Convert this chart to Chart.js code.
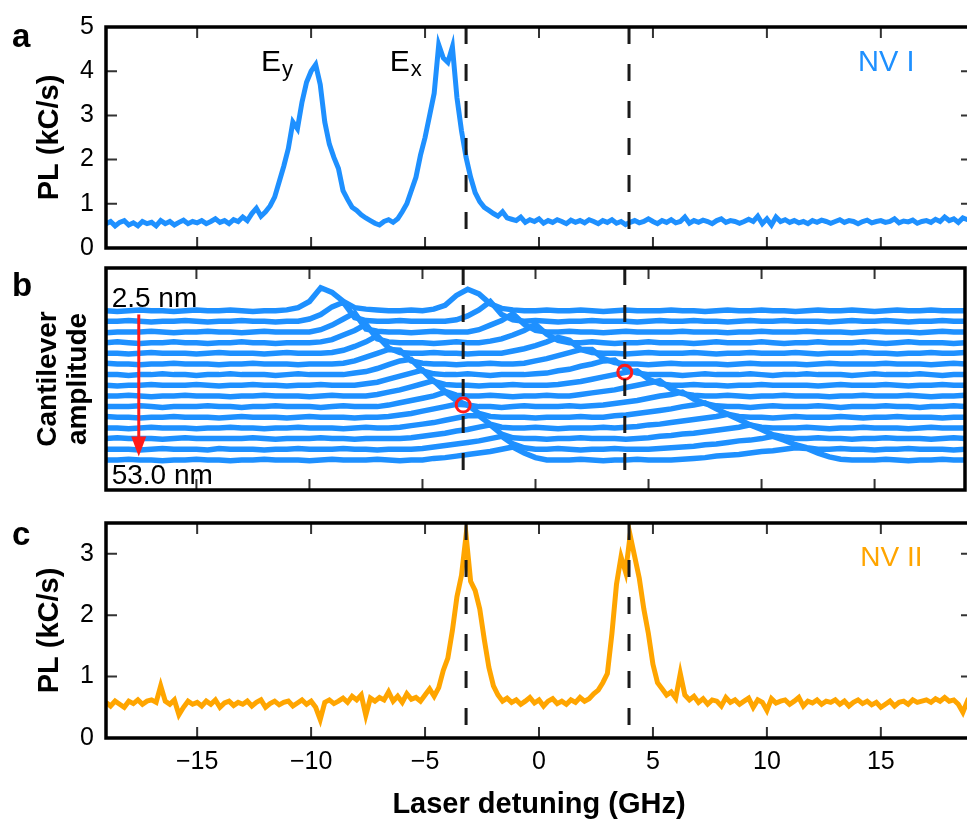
<!DOCTYPE html>
<html>
<head>
<meta charset="utf-8">
<script src="https://cdn.jsdelivr.net/npm/chart.js@4.4.1/dist/chart.umd.min.js"></script>
<style>
  html, body { margin: 0; padding: 0; background: #fff; overflow: hidden; }
  body { width: 967px; height: 826px; position: relative; }
  canvas { position: absolute; left: 0; }
</style>
</head>
<body>
<canvas id="panelA" width="975" height="275" style="top:0px"></canvas>
<canvas id="panelB" width="975" height="242" style="top:258px"></canvas>
<canvas id="panelC" width="975" height="330" style="top:496px"></canvas>
<script>
// shared detuning axis (GHz)
const X_MIN = -19, X_MAX = 19;
const X_TICKS = [-15, -10, -5, 0, 5, 10, 15];
const DASHED_X = [-3.2, 3.95];

// panels a and c: one sample every 0.2 GHz starting at -19 GHz
const SCAN_START = -19, SCAN_STEP = 0.2;

// panel a, NV I, PL in kC/s
const PL_NV1 = [
  0.55,0.6,0.5,0.58,0.62,0.52,0.57,0.5,0.6,0.55,
  0.58,0.5,0.62,0.55,0.6,0.52,0.58,0.63,0.55,0.6,
  0.57,0.62,0.55,0.6,0.66,0.58,0.62,0.55,0.64,0.6,
  0.7,0.62,0.78,0.9,0.72,0.82,0.95,1.15,1.5,1.85,
  2.25,2.85,2.7,3.3,3.75,4.0,4.15,3.7,2.85,2.35,
  2.05,1.8,1.3,1.1,0.92,0.85,0.75,0.68,0.62,0.56,
  0.52,0.6,0.64,0.58,0.66,0.82,1.0,1.3,1.6,2.1,
  2.5,3.0,3.5,4.6,4.3,4.2,4.55,3.4,2.65,2.05,
  1.6,1.25,1.05,0.92,0.85,0.78,0.72,0.82,0.68,0.65,
  0.62,0.7,0.58,0.64,0.6,0.66,0.56,0.62,0.58,0.64,
  0.6,0.55,0.63,0.58,0.62,0.57,0.64,0.6,0.55,0.62,
  0.58,0.64,0.56,0.6,0.53,0.58,0.62,0.57,0.6,0.66,
  0.6,0.55,0.62,0.58,0.64,0.57,0.6,0.7,0.56,0.62,
  0.58,0.63,0.6,0.55,0.62,0.66,0.58,0.62,0.6,0.56,
  0.6,0.65,0.6,0.72,0.55,0.66,0.52,0.7,0.6,0.64,
  0.58,0.62,0.57,0.6,0.55,0.62,0.58,0.63,0.6,0.56,
  0.6,0.64,0.58,0.62,0.6,0.55,0.6,0.63,0.57,0.6,
  0.62,0.58,0.6,0.66,0.57,0.61,0.59,0.63,0.56,0.6,
  0.62,0.58,0.65,0.6,0.7,0.62,0.66,0.58,0.68,0.64,0.62
];

// panel c, NV II, PL in kC/s
const PL_NV2 = [
  0.58,0.52,0.6,0.55,0.5,0.6,0.56,0.62,0.55,0.6,
  0.62,0.58,0.85,0.6,0.55,0.62,0.38,0.5,0.6,0.55,
  0.58,0.52,0.6,0.55,0.62,0.5,0.57,0.6,0.53,0.58,
  0.55,0.6,0.52,0.58,0.62,0.5,0.56,0.6,0.54,0.58,
  0.6,0.52,0.57,0.62,0.55,0.6,0.5,0.3,0.58,0.62,
  0.56,0.6,0.65,0.58,0.68,0.62,0.7,0.37,0.65,0.6,
  0.66,0.62,0.75,0.6,0.68,0.58,0.72,0.63,0.66,0.6,
  0.7,0.8,0.68,0.82,1.1,1.3,1.75,2.3,2.65,3.3,
  2.55,2.4,2.1,1.6,1.15,0.85,0.7,0.6,0.65,0.58,
  0.62,0.55,0.6,0.66,0.57,0.62,0.52,0.6,0.64,0.56,
  0.6,0.55,0.62,0.58,0.66,0.6,0.64,0.72,0.78,0.9,
  1.05,1.7,2.5,2.95,2.7,3.3,2.95,2.6,2.1,1.7,
  1.2,0.9,0.8,0.7,0.75,0.65,1.05,0.7,0.62,0.68,
  0.58,0.64,0.55,0.62,0.6,0.52,0.66,0.58,0.62,0.55,
  0.6,0.65,0.5,0.62,0.58,0.45,0.64,0.57,0.6,0.62,
  0.55,0.6,0.66,0.52,0.6,0.57,0.62,0.55,0.6,0.58,
  0.62,0.55,0.6,0.52,0.58,0.62,0.56,0.6,0.54,0.58,
  0.5,0.55,0.6,0.52,0.58,0.6,0.55,0.62,0.58,0.6,
  0.62,0.58,0.64,0.6,0.66,0.6,0.62,0.55,0.42,0.6,0.55
];

// panel b: NV I spectra for growing cantilever amplitude (2.5 nm at top -> 53.0 nm at bottom)
// one sample every 0.5 GHz from -19 GHz, values in units of 0.1 kC/s
const WATERFALL_START = -19, WATERFALL_STEP = 0.5;
const AMPLITUDE_LABELS = ['2.5 nm', '53.0 nm'];
const WATERFALL = [
  [6,5,6,7,6,6,5,6,7,6, 6,7,6,5,6,6,7,10,18,36, 30,18,10,8,7,6,6,7,6,8, 13,26,34,28,15,9,7,6,6,7, 6,6,7,6,5,6,7,6,6,6, 7,6,6,5,6,7,6,6,7,6, 6,5,6,7,6,6,7,6,5,6, 7,6,6,7,6,6,6],
  [6,6,7,6,5,6,6,7,6,5, 6,6,7,6,6,5,6,6,9,15, 25,31,11,7,6,6,7,6,6,6, 6,8,13,21,32,15,8,6,7,6, 5,6,6,7,6,6,6,5,6,7, 6,6,7,6,6,5,6,7,6,6, 7,6,6,6,5,6,7,6,6,7, 6,5,6,6,7,6,6],
  [5,6,6,6,7,6,5,6,6,7, 6,6,5,6,7,6,6,6,6,9, 15,23,31,10,7,6,6,5,6,7, 6,6,6,9,15,21,30,16,8,6, 6,7,6,6,5,6,7,6,6,6, 6,7,6,6,6,5,6,6,7,6, 6,6,7,6,6,6,5,6,7,6, 6,6,5,6,7,6,6],
  [6,7,6,5,6,6,7,6,6,5, 6,6,7,6,6,5,6,6,6,7, 10,16,22,30,11,7,6,6,6,5, 6,7,6,6,8,11,16,22,30,17, 9,6,6,7,6,5,6,6,7,6, 6,6,5,6,7,6,6,6,7,6, 5,6,6,7,6,6,6,7,6,5, 6,7,6,6,6,5,6],
  [6,6,5,6,7,6,6,6,5,6, 7,6,6,6,5,6,7,6,6,6, 7,10,15,21,29,13,7,6,6,7, 6,6,5,6,6,6,9,12,16,21, 27,23,11,7,6,6,5,6,7,6, 6,6,7,6,5,6,6,7,6,6, 6,7,6,5,6,6,6,7,6,6, 5,6,6,7,6,6,7],
  [7,6,6,5,6,6,7,6,6,6, 5,6,6,7,6,6,6,5,6,6, 6,7,10,15,20,25,24,10,7,6, 6,5,6,6,7,6,6,7,10,13, 17,21,25,25,13,8,6,6,5,6, 7,6,6,6,6,5,6,7,6,6, 6,6,5,6,7,6,6,6,6,7, 6,6,6,5,6,7,6],
  [6,6,5,6,6,7,6,6,5,6, 6,7,6,6,6,5,6,7,6,6, 6,6,8,10,14,19,24,26,11,7, 6,6,7,6,5,6,6,6,7,8, 11,13,17,20,24,25,13,8,6,6, 6,5,6,7,6,6,6,7,6,5, 6,6,7,6,6,6,5,6,7,6, 6,6,7,6,5,6,6],
  [6,5,6,6,7,6,6,6,7,6, 5,6,6,7,6,6,5,6,6,7, 6,6,6,8,10,14,18,22,26,11, 7,6,6,5,6,6,7,6,6,6, 7,9,11,14,17,20,23,25,14,8, 6,6,7,6,6,5,6,6,7,6, 6,6,6,5,6,7,6,6,6,7, 6,5,6,6,7,6,6],
  [6,6,7,6,5,6,6,7,6,6, 6,5,6,6,7,6,6,6,5,6, 7,6,6,6,8,11,14,18,22,26, 12,7,6,6,7,6,5,6,6,7, 6,6,8,10,12,14,17,20,23,26, 15,9,7,6,6,7,6,5,6,6, 7,6,6,6,5,6,6,7,6,6, 6,7,6,5,6,6,7],
  [6,6,6,7,6,5,6,6,6,7, 6,6,5,6,6,7,6,6,6,5, 6,7,6,6,6,8,11,14,17,20, 25,14,8,6,6,5,6,7,6,6, 6,7,6,7,8,10,12,14,17,20, 22,25,16,10,7,6,6,5,6,7, 6,6,6,7,6,5,6,6,6,7, 6,6,5,6,6,7,6],
  [7,6,6,5,6,6,7,6,6,6, 5,6,7,6,6,6,5,6,7,6, 6,6,5,6,6,7,9,11,14,17, 20,23,22,11,7,6,6,6,5,6, 6,6,7,6,6,8,9,11,13,15, 17,20,22,25,17,10,7,6,6,5, 6,7,6,6,6,7,6,5,6,6, 7,6,6,6,5,6,6],
  [6,6,5,6,7,6,6,6,5,6, 6,7,6,6,5,6,6,7,6,6, 6,5,6,7,6,6,7,9,11,13, 16,19,22,22,11,7,6,6,7,6, 5,6,6,6,7,6,7,8,10,11, 13,15,17,19,21,24,17,10,7,6, 6,6,7,6,5,6,6,7,6,6, 6,5,6,7,6,6,6],
  [6,7,6,6,6,5,6,7,6,6, 6,6,6,7,6,5,6,6,6,7, 6,6,5,6,6,6,6,7,9,11, 13,16,18,21,24,12,7,6,6,5, 6,6,7,6,6,6,5,6,7,9, 10,12,13,15,17,19,21,24,18,11, 8,6,6,7,6,6,5,6,6,7, 6,6,6,5,6,7,6],
  [6,6,6,5,6,7,6,6,6,5, 7,6,6,6,5,6,6,7,6,6, 6,7,6,6,5,6,6,6,7,9, 11,13,15,17,20,23,13,8,6,6, 7,6,5,6,6,7,6,6,6,7, 8,9,10,12,13,15,17,18,20,23, 18,12,8,6,6,7,6,6,5,6, 6,7,6,6,6,5,6],
  [6,6,7,6,6,5,6,6,7,6, 6,5,6,6,7,6,6,6,5,6, 7,6,6,6,7,6,5,6,6,8, 9,11,13,15,17,20,23,15,9,6, 6,6,7,6,5,6,6,7,6,6, 6,7,8,9,11,12,13,15,17,18, 20,22,21,15,10,7,6,6,6,7, 6,5,6,6,7,6,6]
];
const WATERFALL_OFFSET = 1.4;          // kC/s between consecutive spectra
const CROSSINGS = [[-3.2, 7.8], [3.95, 12.1]];   // red circles in panel b
const ARROW = { x: -17.55, from: 19.7, to: 1.05 };

const BLUE = '#1e90ff', ORANGE = '#ffa500', RED = '#ff1a1a';
const FONT = "'Liberation Sans', Arial, sans-serif";

function scanPoints(values, start, step) {
  return values.map((v, i) => ({ x: start + i * step, y: v }));
}

// frame, inward ticks, dashed markers and labels for every panel
const panelDecor = {
  id: 'panelDecor',
  afterDatasetsDraw(chart, args, opts) {
    const { ctx, chartArea: a } = chart;
    const x = chart.scales.x, y = chart.scales.y;
    ctx.save();

    ctx.strokeStyle = '#1a1a1a';
    ctx.lineWidth = 3;
    ctx.setLineDash([17, 20]);
    DASHED_X.forEach(v => {
      const px = x.getPixelForValue(v);
      ctx.beginPath();
      ctx.moveTo(px, a.top);
      ctx.lineTo(px, a.bottom);
      ctx.stroke();
    });
    ctx.setLineDash([]);

    if (opts.arrow) {
      const ax = x.getPixelForValue(opts.arrow.x);
      const y0 = y.getPixelForValue(opts.arrow.from);
      const y1 = y.getPixelForValue(opts.arrow.to);
      ctx.strokeStyle = RED;
      ctx.lineWidth = 3;
      ctx.beginPath();
      ctx.moveTo(ax, y0);
      ctx.lineTo(ax, y1 - 18);
      ctx.stroke();
      ctx.fillStyle = RED;
      ctx.beginPath();
      ctx.moveTo(ax - 7.5, y1 - 20);
      ctx.lineTo(ax + 7.5, y1 - 20);
      ctx.lineTo(ax, y1);
      ctx.closePath();
      ctx.fill();
    }

    ctx.strokeStyle = '#333';
    ctx.lineWidth = 2;
    X_TICKS.forEach(v => {
      const px = x.getPixelForValue(v);
      ctx.beginPath();
      ctx.moveTo(px, a.top); ctx.lineTo(px, a.top + 11);
      ctx.moveTo(px, a.bottom); ctx.lineTo(px, a.bottom - 11);
      ctx.stroke();
    });
    (opts.yTicks || []).forEach(v => {
      const py = y.getPixelForValue(v);
      ctx.beginPath();
      ctx.moveTo(a.left, py); ctx.lineTo(a.left + 11, py);
      ctx.moveTo(a.right, py); ctx.lineTo(a.right - 11, py);
      ctx.stroke();
    });

    ctx.strokeStyle = '#000';
    ctx.lineWidth = 3.5;
    ctx.strokeRect(a.left, a.top, a.right - a.left, a.bottom - a.top);

    ctx.textBaseline = 'alphabetic';
    ctx.textAlign = 'left';
    ctx.fillStyle = '#000';
    ctx.font = 'bold 33px ' + FONT;
    ctx.fillText(opts.letter, 12, a.top + opts.letterDy);

    (opts.labels || []).forEach(l => {
      const px = x.getPixelForValue(l.x), py = y.getPixelForValue(l.y);
      ctx.fillStyle = l.color || '#000';
      ctx.font = l.size + 'px ' + FONT;
      ctx.fillText(l.text, px, py);
      if (l.sub) {
        const w = ctx.measureText(l.text).width;
        ctx.font = '22px ' + FONT;
        ctx.fillText(l.sub, px + w + 1, py + 5);
      }
    });
    ctx.restore();
  }
};

function yAxis(min, max, ticks, title, titleFont, titlePad) {
  return {
    type: 'linear', min: min, max: max,
    afterBuildTicks: s => { s.ticks = ticks.map(v => ({ value: v })); },
    afterFit: s => { s.width = 106; },
    grid: { display: false, drawTicks: false },
    border: { display: false },
    ticks: { display: ticks.length > 0, font: { family: FONT, size: 25 }, color: '#000', padding: 12 },
    title: { display: true, text: title, color: '#000', font: titleFont, padding: { top: titlePad, bottom: 0 } }
  };
}

function xAxis(show) {
  return {
    type: 'linear', min: X_MIN, max: X_MAX, display: show,
    afterBuildTicks: s => { s.ticks = X_TICKS.map(v => ({ value: v })); },
    afterFit: s => { if (show) s.height = 88; },
    grid: { display: false, drawTicks: false },
    border: { display: false },
    ticks: {
      font: { family: FONT, size: 25 }, color: '#000', padding: 9, maxRotation: 0, autoSkip: false,
      callback: v => v < 0 ? '\u2212' + Math.abs(v) : String(v)
    },
    title: {
      display: show, text: 'Laser detuning (GHz)', color: '#000',
      font: { family: FONT, size: 29, weight: 'bold', lineHeight: 1 }, padding: { top: 0, bottom: 7 }
    }
  };
}

function baseOptions(padding, scales, decor) {
  return {
    responsive: false,
    animation: false,
    events: [],
    layout: { padding: padding },
    elements: { point: { radius: 0 }, line: { tension: 0 } },
    plugins: { legend: { display: false }, tooltip: { enabled: false }, panelDecor: decor },
    scales: scales
  };
}

const plTitleFont = { family: FONT, size: 29, weight: 'bold', lineHeight: 1 };

// panel a
new Chart(document.getElementById('panelA'), {
  type: 'line',
  data: { datasets: [{
    data: scanPoints(PL_NV1, SCAN_START, SCAN_STEP),
    borderColor: BLUE, borderWidth: 5, fill: false
  }] },
  options: baseOptions({ top: 22, bottom: 15, left: 0, right: 3 }, {
    x: xAxis(false),
    y: yAxis(0, 5, [0, 1, 2, 3, 4, 5], 'PL (kC/s)', plTitleFont, 35)
  }, {
    letter: 'a', letterDy: 20, yTicks: [1, 2, 3, 4],
    labels: [
      { text: 'E', sub: 'y', x: -12.2, y: 4.0, size: 30 },
      { text: 'E', sub: 'x', x: -6.55, y: 4.0, size: 30 },
      { text: 'NV I', x: 14.0, y: 4.0, size: 29, color: BLUE }
    ]
  }),
  plugins: [panelDecor]
});

// panel b
const waterfallSets = WATERFALL.map((trace, k) => ({
  data: trace.map((v, i) => ({
    x: WATERFALL_START + i * WATERFALL_STEP,
    y: v / 10 + (WATERFALL.length - 1 - k) * WATERFALL_OFFSET
  })),
  borderColor: BLUE, borderWidth: 5.5, fill: false, order: 1
}));
waterfallSets.push({
  data: CROSSINGS.map(p => ({ x: p[0], y: p[1] })),
  showLine: false, pointRadius: 7, pointBorderWidth: 3,
  pointBorderColor: RED, pointBackgroundColor: 'rgba(0,0,0,0)', order: 0
});
new Chart(document.getElementById('panelB'), {
  type: 'line',
  data: { datasets: waterfallSets },
  options: baseOptions({ top: 2, bottom: 2, left: 0, right: 3 }, {
    x: xAxis(false),
    y: yAxis(-3.35, 25.8, [], ['Cantilever', 'amplitude'],
      { family: FONT, size: 28, weight: 'bold', lineHeight: 1.07 }, 33)
  }, {
    letter: 'b', letterDy: 28, arrow: ARROW,
    labels: [
      { text: AMPLITUDE_LABELS[0], x: -18.75, y: 20.66, size: 28 },
      { text: AMPLITUDE_LABELS[1], x: -18.75, y: -2.5, size: 28 }
    ]
  }),
  plugins: [panelDecor]
});

// panel c
new Chart(document.getElementById('panelC'), {
  type: 'line',
  data: { datasets: [{
    data: scanPoints(PL_NV2, SCAN_START, SCAN_STEP),
    borderColor: ORANGE, borderWidth: 5, fill: false
  }] },
  options: baseOptions({ top: 2, bottom: 0, left: 0, right: 3 }, {
    x: xAxis(true),
    y: yAxis(0, 3.5, [0, 1, 2, 3], 'PL (kC/s)', plTitleFont, 35)
  }, {
    letter: 'c', letterDy: 22, yTicks: [1, 2, 3],
    labels: [ { text: 'NV II', x: 14.1, y: 2.8, size: 28, color: ORANGE } ]
  }),
  plugins: [panelDecor]
});
</script>
</body>
</html>
